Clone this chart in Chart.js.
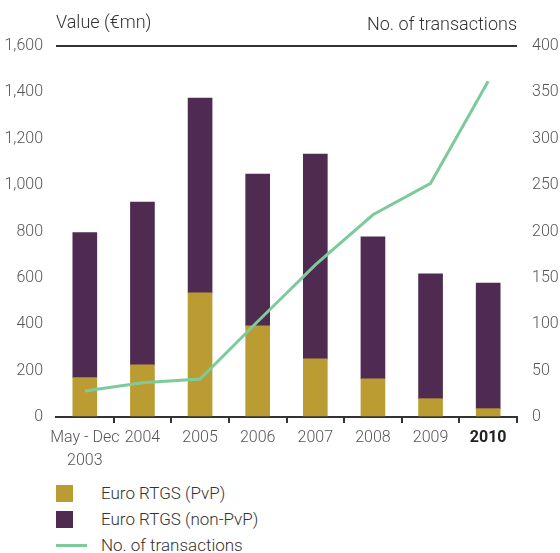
<!DOCTYPE html>
<html>
<head>
<meta charset="utf-8">
<script src="https://cdn.jsdelivr.net/npm/chart.js@4"></script>
<style>
  body { margin: 0; background: #fff; }
  #wrap { position: relative; width: 560px; height: 553px; }
  #chart { position: absolute; left: 0; top: 0; }
  .legend { position: absolute; left: 56px; font: 300 17px Roboto, sans-serif; color: #333; }
  .legend div { position: absolute; left: 0; height: 26px; width: 300px; }
  .legend span.sw { position: absolute; left: 0; }
  .legend span.lb { position: absolute; left: 45px; top: 0; line-height: 26px; white-space: nowrap; }
</style>
</head>
<body>
<div id="wrap">
  <canvas id="chart" width="560" height="475"></canvas>
  <div class="legend" id="legend" style="top:480px"></div>
</div>
<script>
const categories = [['May - Dec', '2003'], '2004', '2005', '2006', '2007', '2008', '2009', '2010'];
const pvpValues = [170, 225, 535, 393, 251, 165, 79, 36];
const nonPvpValues = [625, 702, 840, 655, 883, 612, 538, 542];
const transactions = [28, 37, 41, 103, 164, 218, 252, 362];

const seriesNames = ['Euro RTGS (PvP)', 'Euro RTGS (non-PvP)', 'No. of transactions'];
const colors = ['#BB9C33', '#4F2B52', '#7DCB9B'];

const fontFamily = 'Roboto, sans-serif';
const dark = '#333333';

const topTitles = {
  id: 'topTitles',
  afterDraw(chart) {
    const { ctx, chartArea } = chart;
    ctx.save();
    ctx.font = '300 18px ' + fontFamily;
    ctx.fillStyle = '#333';
    ctx.textBaseline = 'middle';
    ctx.textAlign = 'left';
    ctx.fillText('Value (€mn)', chartArea.left, 23);
    ctx.textAlign = 'right';
    ctx.fillText('No. of transactions', chartArea.right, 25);
    ctx.restore();
  }
};

new Chart(document.getElementById('chart'), {
  data: {
    labels: categories,
    datasets: [
      {
        type: 'line',
        label: seriesNames[2],
        data: transactions,
        yAxisID: 'y1',
        borderColor: colors[2],
        borderWidth: 3,
        pointRadius: 0,
        tension: 0,
        order: 0,
      },
      {
        type: 'bar',
        label: seriesNames[0],
        data: pvpValues,
        backgroundColor: colors[0],
        yAxisID: 'y',
        stack: 's',
        barThickness: 24,
        order: 1,
      },
      {
        type: 'bar',
        label: seriesNames[1],
        data: nonPvpValues,
        backgroundColor: colors[1],
        yAxisID: 'y',
        stack: 's',
        barThickness: 24,
        order: 1,
      },
    ],
  },
  options: {
    responsive: false,
    animation: false,
    layout: { padding: { top: 46, right: 0, left: 0, bottom: 0 } },
    plugins: {
      legend: { display: false },
      tooltip: { enabled: false },
    },
    scales: {
      x: {
        stacked: true,
        afterFit: s => { s.height = 58; },
        border: { display: true, color: dark, width: 2 },
        grid: {
          offset: true,
          drawOnChartArea: false,
          drawTicks: true,
          tickLength: 6,
          lineWidth: 2,
          color: c => (c.index === 0 || c.index >= categories.length) ? 'rgba(0,0,0,0)' : dark,
        },
        ticks: {
          padding: 3,
          color: c => c.index === 7 ? '#222' : '#555',
          font: c => c.index === 7
            ? { family: fontFamily, size: 16, weight: 'bold', lineHeight: 1.45 }
            : { family: fontFamily, size: 16, weight: 300, lineHeight: 1.45 },
          maxRotation: 0,
          autoSkip: false,
        },
      },
      y: {
        stacked: true,
        position: 'left',
        min: 0,
        max: 1600,
        afterFit: s => { s.width = 56; },
        border: { display: false },
        grid: {
          drawTicks: false,
          lineWidth: 2,
          color: c => c.tick && c.tick.value === 1600 ? dark : 'rgba(0,0,0,0)',
        },
        ticks: {
          stepSize: 200,
          padding: 13,
          color: '#555',
          font: { family: fontFamily, size: 16, weight: 300 },
          callback: v => v.toLocaleString('en-US'),
        },
      },
      y1: {
        position: 'right',
        min: 0,
        max: 400,
        afterFit: s => { s.width = 43; },
        border: { display: false },
        grid: { display: false, drawTicks: false },
        ticks: {
          stepSize: 50,
          padding: 15,
          color: '#555',
          font: { family: fontFamily, size: 16, weight: 300 },
        },
      },
    },
  },
  plugins: [topTitles],
});

const legend = document.getElementById('legend');
[0, 1, 2].forEach(i => {
  const row = document.createElement('div');
  row.style.top = (i * 26) + 'px';
  const sw = document.createElement('span');
  sw.className = 'sw';
  if (i < 2) {
    sw.style.cssText = `left:0;top:5px;width:17px;height:17px;background:${colors[i]}`;
  } else {
    sw.style.cssText = `left:0;top:12px;width:31px;height:3px;background:${colors[i]}`;
  }
  const lb = document.createElement('span');
  lb.className = 'lb';
  lb.textContent = seriesNames[i];
  row.appendChild(sw);
  row.appendChild(lb);
  legend.appendChild(row);
});
</script>
</body>
</html>
